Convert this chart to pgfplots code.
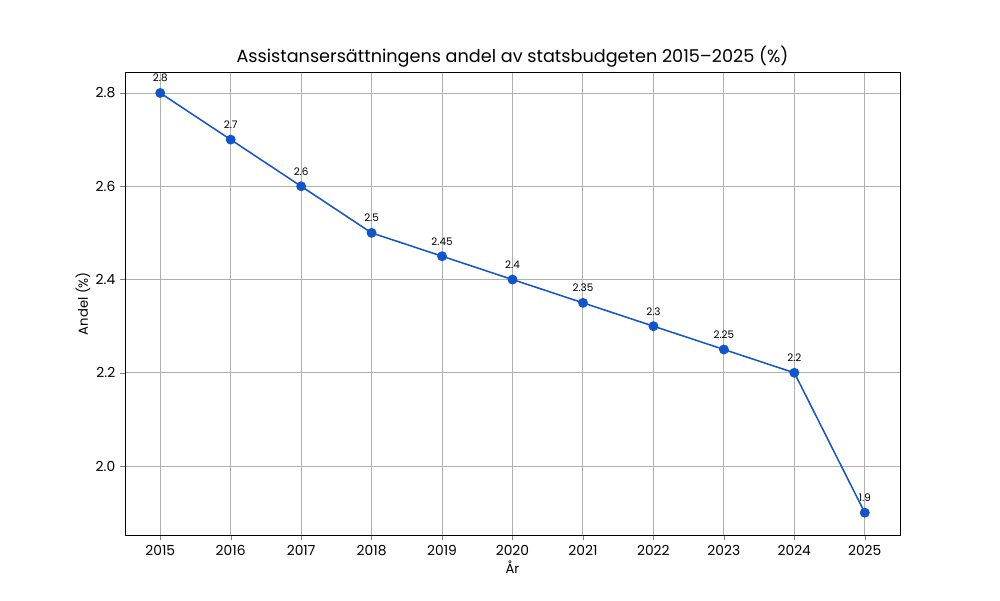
\documentclass[border=0pt]{standalone}
\usepackage{pgfplots}
\pgfplotsset{compat=1.18}
\usepackage{fontspec}
\setmainfont{Poppins}
\definecolor{linecol}{HTML}{1155CC}
\definecolor{gridcol}{HTML}{B0B0B0}
\begin{document}
\begin{tikzpicture}
\begin{axis}[
    scale only axis,
    width=560pt, height=334.6pt,
    xmin=2014.5, xmax=2025.5,
    ymin=1.852, ymax=2.845,
    xtick={2015,...,2025},
    ytick={2.0,2.2,2.4,2.6,2.8},
    xticklabel style={/pgf/number format/1000 sep=},
    yticklabel style={/pgf/number format/fixed,/pgf/number format/precision=1,/pgf/number format/fixed zerofill},
    /pgf/number format/assume math mode=true,
    tick label style={font=\fontsize{10}{12}\selectfont},
    tick align=outside,
    major tick length=3.5pt,
    tick pos=left,
    grid=major,
    grid style={gridcol, line width=0.7pt},
    axis line style={line width=0.7pt},
    title={Assistansersättningens andel av statsbudgeten 2015–2025 (\%)},
    title style={font=\fontsize{12.75}{15}\selectfont, yshift=-6pt},
    xlabel={År},
    ylabel={Andel (\%)},
    label style={font=\fontsize{9.5}{12}\selectfont},
    xlabel style={yshift=3pt},
    ylabel style={yshift=-3pt},
    nodes near coords,
    nodes near coords style={font=\fontsize{7.5}{9}\selectfont, black, yshift=4pt},
    point meta=explicit symbolic,
    clip=false,
]
\addplot[color=linecol, line width=1.1pt, mark=*, mark size=3pt, mark options={fill=linecol, draw=linecol}]
    coordinates {
    (2015,2.8)[2.8] (2016,2.7)[2.7] (2017,2.6)[2.6] (2018,2.5)[2.5] (2019,2.45)[2.45]
    (2020,2.4)[2.4] (2021,2.35)[2.35] (2022,2.3)[2.3] (2023,2.25)[2.25] (2024,2.2)[2.2]
    (2025,1.9)[1.9]
    };
\coordinate (bl) at (axis description cs:-0.1613,-0.1404);
\coordinate (tr) at (axis description cs:1.1290,1.1555);
\end{axis}
\pgfresetboundingbox
\useasboundingbox (bl) rectangle (tr);
\end{tikzpicture}
\end{document}
